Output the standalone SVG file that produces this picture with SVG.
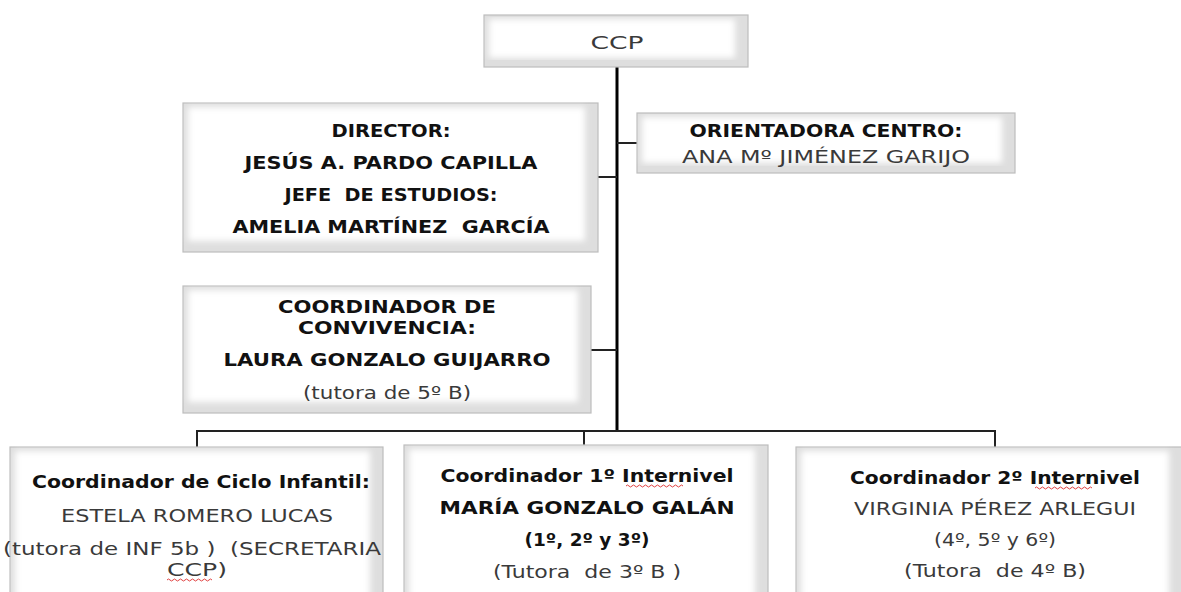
<svg xmlns="http://www.w3.org/2000/svg" width="1181" height="592" viewBox="0 0 1181 592">
<defs>
<filter id="soft" x="-5%" y="-5%" width="110%" height="110%"><feGaussianBlur stdDeviation="3"/></filter>
</defs>
<style>
.outer{fill:#dedede;stroke:#bdbdbd;stroke-width:1.2}
.inner{fill:#ffffff;filter:url(#soft)}
.b{font-family:"DejaVu Sans","Liberation Sans",sans-serif;font-weight:bold;font-size:17.5px;fill:#111;text-anchor:middle;white-space:pre}
.r{font-family:"DejaVu Sans","Liberation Sans",sans-serif;font-size:17.5px;fill:#3a3a3a;text-anchor:middle;white-space:pre}
.trunk{stroke:#000;stroke-width:3;fill:none}
.ln{stroke:#222;stroke-width:2;fill:none}
.sp{stroke:#e04040;stroke-width:1;fill:none}
</style>
<rect width="1181" height="592" fill="#fff"/>
<g id="connectors">
<line class="trunk" x1="617" y1="67" x2="617" y2="431"/>
<line class="ln" x1="617" y1="143" x2="637" y2="143"/>
<line class="ln" x1="598" y1="177" x2="617" y2="177"/>
<line class="ln" x1="591" y1="350" x2="617" y2="350"/>
<polyline class="ln" points="197,447 197,431 995,431 995,447"/>
<line class="ln" x1="584" y1="431" x2="584" y2="445"/>
</g>
<g id="ccp">
<rect class="outer" x="484" y="15" width="264" height="52"/>
<rect class="inner" x="489" y="19" width="246" height="39"/>
<text class="r" x="617" y="49" font-size="23" textLength="53" lengthAdjust="spacingAndGlyphs">CCP</text>
</g>
<g id="director">
<rect class="outer" x="183" y="103" width="415" height="149"/>
<rect class="inner" x="188" y="107" width="397" height="134"/>
<text class="b" x="391" y="137" textLength="119" lengthAdjust="spacingAndGlyphs">DIRECTOR:</text>
<text class="b" x="391" y="169" textLength="293" lengthAdjust="spacingAndGlyphs">JESÚS A. PARDO CAPILLA</text>
<text class="b" x="391" y="201" textLength="213" lengthAdjust="spacingAndGlyphs">JEFE  DE ESTUDIOS:</text>
<text class="b" x="391" y="233" textLength="317" lengthAdjust="spacingAndGlyphs">AMELIA MARTÍNEZ  GARCÍA</text>
</g>
<g id="orientadora">
<rect class="outer" x="637" y="113" width="378" height="60"/>
<rect class="inner" x="642" y="117" width="360" height="46"/>
<text class="b" x="826" y="137" textLength="273" lengthAdjust="spacingAndGlyphs">ORIENTADORA CENTRO:</text>
<text class="r" x="826" y="163" textLength="288" lengthAdjust="spacingAndGlyphs">ANA Mº JIMÉNEZ GARIJO</text>
</g>
<g id="convivencia">
<rect class="outer" x="183" y="286" width="408" height="127"/>
<rect class="inner" x="188" y="290" width="390" height="112"/>
<text class="b" x="387" y="313" textLength="218" lengthAdjust="spacingAndGlyphs">COORDINADOR DE</text>
<text class="b" x="387" y="334" textLength="178" lengthAdjust="spacingAndGlyphs">CONVIVENCIA:</text>
<text class="b" x="387" y="366" textLength="327" lengthAdjust="spacingAndGlyphs">LAURA GONZALO GUIJARRO</text>
<text class="r" x="387" y="399" textLength="168" lengthAdjust="spacingAndGlyphs">(tutora de 5º B)</text>
</g>
<g id="infantil">
<rect class="outer" x="10" y="447" width="373" height="160"/>
<rect class="inner" x="15" y="451" width="355" height="160"/>
<text class="b" x="201" y="488" textLength="338" lengthAdjust="spacingAndGlyphs">Coordinador de Ciclo Infantil:</text>
<text class="r" x="197" y="522" textLength="272" lengthAdjust="spacingAndGlyphs">ESTELA ROMERO LUCAS</text>
<text class="r" x="192" y="555" textLength="378" lengthAdjust="spacingAndGlyphs">(tutora de INF 5b )  (SECRETARIA</text>
<text class="r" x="197" y="576" textLength="60" lengthAdjust="spacingAndGlyphs">CCP)</text>
<path class="sp" d="M167,580 q1.5,-2 3,0 t3,0 t3,0 t3,0 t3,0 t3,0 t3,0 t3,0 t3,0 t3,0 t3,0 t3,0 t3,0 t3,0 t3,0"/>
</g>
<g id="internivel1">
<rect class="outer" x="404" y="445" width="364" height="160"/>
<rect class="inner" x="409" y="449" width="346" height="160"/>
<text class="b" x="587" y="482" textLength="293" lengthAdjust="spacingAndGlyphs">Coordinador 1º Internivel</text>
<text class="b" x="587" y="514" textLength="295" lengthAdjust="spacingAndGlyphs">MARÍA GONZALO GALÁN</text>
<text class="b" x="587" y="546" textLength="125" lengthAdjust="spacingAndGlyphs">(1º, 2º y 3º)</text>
<text class="r" x="587" y="578" textLength="188" lengthAdjust="spacingAndGlyphs">(Tutora  de 3º B )</text>
<path class="sp" d="M626,486 q1.5,-2 3,0 t3,0 t3,0 t3,0 t3,0 t3,0 t3,0 t3,0 t3,0 t3,0 t3,0 t3,0 t3,0 t3,0 t3,0 t3,0 t3,0 t3,0 t3,0"/>
</g>
<g id="internivel2">
<rect class="outer" x="796" y="447" width="386" height="160"/>
<rect class="inner" x="801" y="451" width="368" height="160"/>
<text class="b" x="995" y="484" textLength="290" lengthAdjust="spacingAndGlyphs">Coordinador 2º Internivel</text>
<text class="r" x="995" y="515" textLength="282" lengthAdjust="spacingAndGlyphs">VIRGINIA PÉREZ ARLEGUI</text>
<text class="r" x="995" y="546" textLength="122" lengthAdjust="spacingAndGlyphs">(4º, 5º y 6º)</text>
<text class="r" x="995" y="577" textLength="182" lengthAdjust="spacingAndGlyphs">(Tutora  de 4º B)</text>
<path class="sp" d="M1035,488 q1.5,-2 3,0 t3,0 t3,0 t3,0 t3,0 t3,0 t3,0 t3,0 t3,0 t3,0 t3,0 t3,0 t3,0 t3,0 t3,0 t3,0 t3,0 t3,0 t3,0"/>
</g>
</svg>
